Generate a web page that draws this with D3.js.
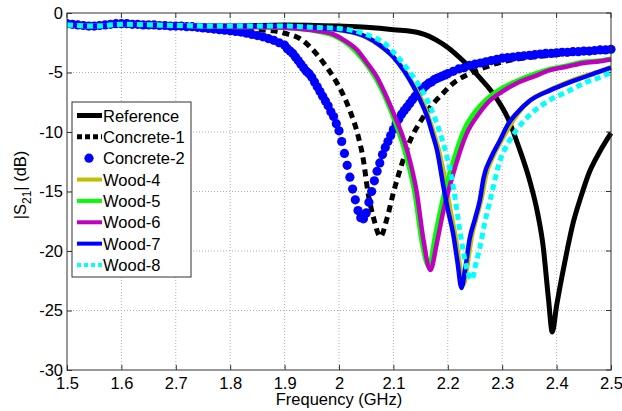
<!DOCTYPE html>
<html>
<head>
<meta charset="utf-8">
<script src="https://cdn.jsdelivr.net/npm/d3@7"></script>
<style>
  body { margin: 0; background: #fff; }
  text { font-family: "Liberation Sans", Arial, sans-serif; }
</style>
</head>
<body>
<div class="chart_box"></div>
<script>
// Tick labels as printed on the original figure
const xTicks = [1.5, 1.6, 1.7, 1.8, 1.9, 2.0, 2.1, 2.2, 2.3, 2.4, 2.5];
const xTickLabels = ["1.5", "1.6", "2.7", "1.8", "1.9", "2", "2.1", "2.2", "2.3", "2.4", "2.5"];
const yTicks = [0, -5, -10, -15, -20, -25, -30];

const seriesNames = ["Reference", "Concrete-1", "Concrete-2", "Wood-4", "Wood-5", "Wood-6", "Wood-7", "Wood-8"];

// Reference (solid black)
const refF = [1.5, 1.55, 1.6, 1.7, 1.8, 1.9, 2.0, 2.05, 2.1, 2.15, 2.18, 2.2, 2.23, 2.26, 2.29, 2.31, 2.33, 2.35, 2.365, 2.375, 2.385, 2.392, 2.4, 2.41, 2.42, 2.43, 2.445, 2.46, 2.48, 2.5];
const refDb = [-1.0, -1.1, -0.95, -1.05, -1.1, -1.0, -1.1, -1.2, -1.4, -1.7, -2.3, -2.9, -4.1, -5.5, -7.2, -8.8, -11.2, -14.0, -16.8, -19.5, -24.0, -26.8, -24.6, -22.1, -19.8, -17.7, -15.4, -13.4, -11.6, -10.1];

// Concrete-1 (black dashed)
const c1F = [1.5, 1.55, 1.6, 1.7, 1.8, 1.85, 1.88, 1.9, 1.93, 1.95, 1.97, 1.99, 2.01, 2.02, 2.035, 2.045, 2.053, 2.064, 2.076, 2.088, 2.1, 2.112, 2.13, 2.15, 2.168, 2.19, 2.21, 2.24, 2.272, 2.3, 2.357, 2.4, 2.45, 2.5];
const c1Db = [-1.0, -1.1, -0.95, -1.05, -1.2, -1.4, -1.5, -1.7, -2.2, -3.0, -4.1, -5.4, -7.1, -8.2, -10.3, -12.4, -15.0, -17.3, -18.8, -17.3, -15.1, -13.2, -10.8, -9.1, -7.9, -6.8, -5.9, -5.1, -4.5, -4.1, -3.7, -3.5, -3.3, -3.1];

// Concrete-2 (blue dots, measured samples)
const c2F = [1.5, 1.51, 1.52, 1.53, 1.54, 1.55, 1.56, 1.57, 1.58, 1.59, 1.6, 1.61, 1.62, 1.63, 1.64, 1.65, 1.66, 1.67, 1.68, 1.69, 1.7, 1.71, 1.72, 1.73, 1.74, 1.75, 1.76, 1.77, 1.78, 1.79, 1.8, 1.81, 1.82, 1.83, 1.84, 1.85, 1.86, 1.87, 1.88, 1.89, 1.9,
  1.905, 1.91, 1.915, 1.92, 1.925, 1.93, 1.935, 1.94, 1.945, 1.95, 1.955, 1.96, 1.965, 1.97, 1.975, 1.98, 1.985, 1.99, 1.995, 2.0,
  2.005, 2.01, 2.015, 2.02, 2.025, 2.03, 2.035, 2.04, 2.045, 2.05, 2.055, 2.06, 2.065, 2.07, 2.075, 2.08, 2.085, 2.09, 2.095, 2.1,
  2.105, 2.11, 2.115, 2.12, 2.125, 2.13, 2.135, 2.14, 2.145, 2.15, 2.155, 2.16, 2.165, 2.17, 2.175, 2.18, 2.185, 2.19, 2.195, 2.2,
  2.21, 2.22, 2.23, 2.24, 2.25, 2.26, 2.27, 2.28, 2.29, 2.3, 2.31, 2.32, 2.33, 2.34, 2.35, 2.36, 2.37, 2.38, 2.39, 2.4,
  2.41, 2.42, 2.43, 2.44, 2.45, 2.46, 2.47, 2.48, 2.49, 2.5];
const c2Db = [-0.9, -0.95, -1.0, -1.05, -1.1, -1.1, -1.05, -1.0, -0.95, -0.9, -0.9, -0.9, -0.95, -0.95, -1.0, -1.0, -1.0, -1.05, -1.05, -1.1, -1.1, -1.1, -1.15, -1.15, -1.2, -1.25, -1.3, -1.35, -1.4, -1.45, -1.5, -1.55, -1.6, -1.7, -1.8, -1.9, -2.0, -2.15, -2.3, -2.5, -2.7,
  -3.0, -3.2, -3.4, -3.7, -4.0, -4.3, -4.6, -4.9, -5.1, -5.4, -5.8, -6.2, -6.6, -7.0, -7.4, -7.8, -8.3, -8.7, -9.3, -9.9,
  -10.8, -11.8, -12.8, -13.8, -14.8, -15.7, -16.6, -17.2, -17.3, -16.8, -15.9, -15.0, -14.1, -13.3, -12.6, -11.9, -11.3, -10.8, -10.3, -9.8,
  -9.3, -8.9, -8.5, -8.2, -7.9, -7.6, -7.3, -7.0, -6.8, -6.5, -6.3, -6.1, -5.9, -5.8, -5.6, -5.5, -5.4, -5.3, -5.2, -5.1,
  -4.9, -4.7, -4.6, -4.4, -4.3, -4.2, -4.1, -4.0, -3.9, -3.8, -3.75, -3.7, -3.65, -3.6, -3.55, -3.5, -3.45, -3.4, -3.4, -3.35,
  -3.3, -3.3, -3.25, -3.25, -3.2, -3.2, -3.15, -3.1, -3.1, -3.05];

// Wood-4 (olive)
const w4F = [1.5, 1.55, 1.6, 1.7, 1.8, 1.9, 1.95, 2.0, 2.05, 2.075, 2.1, 2.12, 2.14, 2.155, 2.165, 2.175, 2.185, 2.195, 2.205, 2.215, 2.222, 2.229, 2.236, 2.244, 2.254, 2.263, 2.27, 2.284, 2.3, 2.33, 2.35, 2.39, 2.42, 2.45, 2.48, 2.5];
const w4Db = [-1.0, -1.1, -0.95, -1.05, -1.15, -1.15, -1.25, -1.45, -2.05, -2.75, -3.7, -4.8, -6.3, -7.6, -8.8, -10.2, -11.8, -14.0, -16.6, -19.0, -21.2, -22.8, -21.2, -18.8, -17.0, -15.4, -13.7, -12.0, -10.6, -8.4, -7.4, -6.4, -5.8, -5.3, -4.9, -4.55];

// Wood-5 (green)
const w5F = [1.5, 1.55, 1.6, 1.7, 1.8, 1.9, 1.93, 1.96, 1.99, 2.01, 2.03, 2.05, 2.07, 2.085, 2.1, 2.122, 2.14, 2.152, 2.165, 2.177, 2.19, 2.207, 2.23, 2.25, 2.27, 2.3, 2.327, 2.36, 2.388, 2.42, 2.45, 2.48, 2.5];
const w5Db = [-1.0, -1.1, -0.95, -1.05, -1.15, -1.25, -1.35, -1.55, -1.9, -2.4, -3.2, -4.3, -5.7, -7.1, -8.8, -11.8, -15.4, -19.2, -21.3, -18.6, -15.8, -12.9, -9.8, -8.3, -7.3, -6.3, -5.7, -5.1, -4.7, -4.4, -4.1, -4.0, -3.85];

// Wood-6 (magenta)
const w6F = [1.5, 1.55, 1.6, 1.7, 1.8, 1.9, 1.93, 1.96, 1.99, 2.01, 2.033, 2.05, 2.07, 2.085, 2.1, 2.125, 2.143, 2.155, 2.168, 2.18, 2.192, 2.21, 2.235, 2.255, 2.272, 2.3, 2.327, 2.36, 2.388, 2.42, 2.45, 2.48, 2.5];
const w6Db = [-1.0, -1.1, -0.95, -1.05, -1.15, -1.25, -1.35, -1.5, -1.8, -2.3, -3.1, -4.1, -5.4, -6.8, -8.4, -11.5, -15.1, -19.0, -21.6, -19.3, -16.6, -13.5, -10.1, -8.6, -7.6, -6.6, -5.9, -5.3, -4.8, -4.5, -4.2, -4.05, -3.9];

// Wood-7 (blue)
const w7F = [1.5, 1.55, 1.6, 1.7, 1.8, 1.9, 1.95, 2.0, 2.05, 2.075, 2.1, 2.12, 2.137, 2.15, 2.162, 2.172, 2.18, 2.192, 2.2, 2.21, 2.218, 2.225, 2.232, 2.24, 2.25, 2.259, 2.266, 2.28, 2.296, 2.31, 2.327, 2.35, 2.388, 2.42, 2.45, 2.48, 2.5];
const w7Db = [-1.0, -1.1, -0.95, -1.05, -1.1, -1.1, -1.2, -1.4, -2.0, -2.7, -3.7, -4.9, -6.2, -7.4, -8.7, -10.2, -11.5, -14.6, -16.5, -18.6, -21.0, -23.1, -21.5, -19.0, -17.3, -15.7, -13.8, -12.1, -10.7, -9.4, -8.4, -7.4, -6.5, -5.9, -5.4, -4.9, -4.6];

// Wood-8 (cyan dashed)
const w8F = [1.5, 1.55, 1.6, 1.7, 1.8, 1.9, 1.95, 2.0, 2.05, 2.082, 2.11, 2.137, 2.15, 2.162, 2.175, 2.186, 2.2, 2.21, 2.223, 2.235, 2.244, 2.252, 2.259, 2.268, 2.278, 2.296, 2.31, 2.327, 2.35, 2.388, 2.42, 2.45, 2.48, 2.5];
const w8Db = [-1.0, -1.1, -0.95, -1.05, -1.1, -1.1, -1.2, -1.3, -1.8, -2.5, -3.8, -5.4, -6.3, -7.3, -8.7, -10.1, -12.4, -14.6, -18.5, -21.5, -22.4, -21.0, -19.7, -17.6, -15.7, -12.4, -11.0, -9.8, -8.6, -7.3, -6.6, -5.9, -5.4, -5.0];

const W = 622, H = 411;
const margin = { left: 67, right: 11, top: 13, bottom: 41 };
const fontSize = 16.5;

const svg = d3
  .select(".chart_box")
  .append("svg")
  .attr("width", W)
  .attr("height", H);

const xScale = d3.scaleLinear().domain([1.5, 2.5]).range([margin.left, W - margin.right]);
const yScale = d3.scaleLinear().domain([-30, 0]).range([H - margin.bottom, margin.top]);

const x0 = xScale.range()[0], x1 = xScale.range()[1];
const y0 = yScale.range()[0], y1 = yScale.range()[1];

// dotted grid
svg.append("g")
  .selectAll("line")
  .data(xTicks.slice(1, -1))
  .enter()
  .append("line")
  .attr("x1", (d) => xScale(d)).attr("x2", (d) => xScale(d))
  .attr("y1", y1).attr("y2", y0)
  .attr("stroke", "#b0b0b0").attr("stroke-width", 1).attr("stroke-dasharray", "1,2");

svg.append("g")
  .selectAll("line")
  .data(yTicks.slice(1, -1))
  .enter()
  .append("line")
  .attr("y1", (d) => yScale(d)).attr("y2", (d) => yScale(d))
  .attr("x1", x0).attr("x2", x1)
  .attr("stroke", "#b0b0b0").attr("stroke-width", 1).attr("stroke-dasharray", "1,2");

// axes, ticks pointing inward
const xAxis = svg.append("g")
  .attr("transform", `translate(0, ${y0})`)
  .call(d3.axisBottom(xScale).tickValues(xTicks).tickSize(-5).tickPadding(7)
    .tickFormat((d, i) => xTickLabels[i]));
const yAxis = svg.append("g")
  .attr("transform", `translate(${x0}, 0)`)
  .call(d3.axisLeft(yScale).tickValues(yTicks).tickSize(-5).tickPadding(4)
    .tickFormat((d) => d));

[xAxis, yAxis].forEach((g) => {
  g.select(".domain").remove();
  g.selectAll("line").attr("stroke", "#333");
  g.selectAll("text").attr("font-size", fontSize).attr("fill", "#000");
});

// tick marks on top and right sides too
svg.append("g").selectAll("line").data(xTicks).enter().append("line")
  .attr("x1", (d) => xScale(d)).attr("x2", (d) => xScale(d))
  .attr("y1", y1).attr("y2", y1 + 5).attr("stroke", "#333");
svg.append("g").selectAll("line").data(yTicks).enter().append("line")
  .attr("y1", (d) => yScale(d)).attr("y2", (d) => yScale(d))
  .attr("x1", x1).attr("x2", x1 - 5).attr("stroke", "#333");

// plot clip
svg.append("clipPath").attr("id", "plotClip")
  .append("rect").attr("x", x0).attr("y", y1 - 8).attr("width", x1 - x0 + 8).attr("height", y0 - y1 + 8);

const line = d3.line()
  .x((d) => xScale(d[0]))
  .y((d) => yScale(d[1]))
  .curve(d3.curveMonotoneX);

const pairs = (f, v) => f.map((d, i) => [d, v[i]]);

const plot = svg.append("g").attr("clip-path", "url(#plotClip)");

const lineSeries = [
  { name: "Reference", data: pairs(refF, refDb), color: "#000000", width: 5, dash: null },
  { name: "Concrete-1", data: pairs(c1F, c1Db), color: "#000000", width: 5, dash: "7,5" },
];
const laterSeries = [
  { name: "Wood-4", data: pairs(w4F, w4Db), color: "#bfbf00", width: 4.5, dash: null },
  { name: "Wood-5", data: pairs(w5F, w5Db), color: "#00ff00", width: 4.5, dash: null },
  { name: "Wood-6", data: pairs(w6F, w6Db), color: "#bf00bf", width: 4.5, dash: null },
  { name: "Wood-7", data: pairs(w7F, w7Db), color: "#0000ff", width: 4.5, dash: null },
  { name: "Wood-8", data: pairs(w8F, w8Db), color: "#00ffff", width: 5, dash: "6,4" },
];

function drawLines(list) {
  list.forEach((s) => {
    plot.append("path")
      .datum(s.data)
      .attr("d", line)
      .attr("fill", "none")
      .attr("stroke", s.color)
      .attr("stroke-width", s.width)
      .attr("stroke-dasharray", s.dash)
      .attr("stroke-linejoin", "round");
  });
}

drawLines(lineSeries);

// Concrete-2 markers
plot.append("g")
  .selectAll("circle")
  .data(pairs(c2F, c2Db))
  .enter()
  .append("circle")
  .attr("cx", (d) => xScale(d[0]))
  .attr("cy", (d) => yScale(d[1]))
  .attr("r", 4.6)
  .attr("fill", "#0000ff");

drawLines(laterSeries);

// frame
svg.append("rect")
  .attr("x", x0).attr("y", y1)
  .attr("width", x1 - x0).attr("height", y0 - y1)
  .attr("fill", "none").attr("stroke", "#333").attr("stroke-width", 1);

// axis labels
svg.append("text")
  .attr("x", (x0 + x1) / 2).attr("y", 405)
  .attr("text-anchor", "middle").attr("font-size", fontSize)
  .text("Frequency (GHz)");

const yl = svg.append("text")
  .attr("transform", `translate(26, 185) rotate(-90)`)
  .attr("text-anchor", "middle").attr("font-size", fontSize);
yl.append("tspan").text("|S");
yl.append("tspan").attr("font-size", 12).attr("dy", 5).text("21");
yl.append("tspan").attr("dy", -5).text("| (dB)");

// legend
const legendStyles = [
  { color: "#000000", width: 5, dash: null },
  { color: "#000000", width: 5, dash: "5,3" },
  { color: "#0000ff", marker: true },
  { color: "#bfbf00", width: 4, dash: null },
  { color: "#00ff00", width: 4, dash: null },
  { color: "#bf00bf", width: 4, dash: null },
  { color: "#0000ff", width: 4, dash: null },
  { color: "#00ffff", width: 4, dash: "4,3" },
];

const lg = svg.append("g").attr("transform", "translate(72, 102)");
lg.append("rect")
  .attr("width", 119).attr("height", 175)
  .attr("fill", "#fff").attr("stroke", "#333").attr("stroke-width", 1);

const legendRow = d3.scaleLinear().domain([0, 7]).range([13.5, 163]);

seriesNames.forEach((name, i) => {
  const st = legendStyles[i];
  const yy = legendRow(i);
  if (st.marker) {
    lg.append("circle").attr("cx", 17).attr("cy", yy).attr("r", 4.6).attr("fill", st.color);
  } else {
    lg.append("line")
      .attr("x1", 5).attr("x2", 30).attr("y1", yy).attr("y2", yy)
      .attr("stroke", st.color).attr("stroke-width", st.width)
      .attr("stroke-dasharray", st.dash);
  }
  lg.append("text")
    .attr("x", 31).attr("y", yy + 6)
    .attr("font-size", fontSize)
    .text(name);
});
</script>
</body>
</html>
